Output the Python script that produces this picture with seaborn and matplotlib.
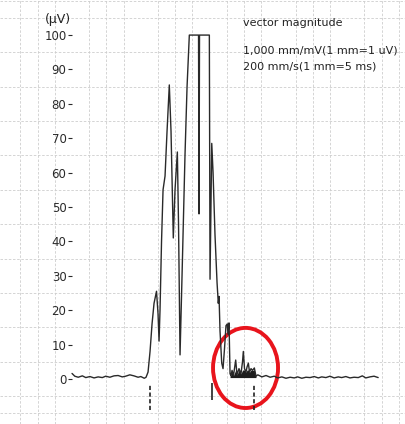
import numpy as np
import pandas as pd
import matplotlib
matplotlib.use("Agg")
import matplotlib.pyplot as plt
from matplotlib.patches import Ellipse
import seaborn as sns

# ---- data (time in ms, amplitude in µV) ----
pre_t = [0, 4, 9, 15, 20, 26, 32, 38, 44, 49, 55, 61, 67, 73, 78, 84, 90, 96, 100, 105]
pre_v = [1.6, 0.8, 0.5, 0.9, 0.4, 0.7, 0.3, 0.6, 0.4, 0.8, 0.5, 0.9, 1.0, 0.6, 0.8, 1.2, 0.9, 0.5, 0.7, 0.2]

qrs_t = [107.6, 110.5, 113.4, 116.3, 119.2, 122.8, 125.0, 126.5, 127.9, 130.1, 132.3, 135.2,
         138.1, 141.4, 143.9, 147.2, 149.7, 153.1, 154.8, 157.0, 159.9, 164.2, 167.2, 170.5,
         183.9, 184.6, 185.3, 199.6, 200.6, 203.1, 205.0, 207.8, 210.8, 212.6, 213.7, 215.1,
         217.6, 219.5, 221.7, 223.8, 225.7, 226.7, 228.2]
qrs_v = [0.5, 2, 8, 16, 22, 25.5, 19, 11, 20, 40, 55, 59,
         72, 85.5, 72, 41, 55, 66, 45, 7, 30, 65, 85, 100,
         100, 48, 100, 100, 29, 68.5, 60, 42, 28, 22, 24, 14,
         4.6, 3, 9, 15.5, 16, 13, 16.3]

late_t = [229.7, 231.1, 232.6, 234.7, 237.9, 239.8, 242.7, 245.6, 247.8, 249.0, 250.7,
          252.9, 254.4, 256.3, 258.0, 260.2, 262.4, 265.0, 267.4]
late_v = [1.5, 1.0, 2.5, 1.0, 5.5, 1.2, 3.0, 1.5, 5.0, 8.0, 3.0,
          2.0, 3.5, 4.6, 2.0, 3.0, 2.5, 3.2, 0.8]

post_t = [270, 276, 282, 288, 294, 299, 305, 311, 317, 323, 328, 334, 340, 346, 352, 358,
          363, 369, 375, 381, 387, 392, 398, 404, 410, 416, 422, 427, 433, 439, 445]
post_v = [1.2, 0.6, 1.0, 0.5, 0.8, 0.3, 0.6, 0.2, 0.5, 0.3, 0.6, 0.2, 0.5, 0.4, 0.7, 0.3,
          0.6, 0.4, 0.8, 0.3, 0.6, 0.4, 0.7, 0.3, 0.5, 0.4, 0.9, 0.3, 0.6, 0.8, 0.4]

marker_dashed_t = [113.4, 264.5]
marker_solid_t = [203.5]
y_ticks = [0, 10, 20, 30, 40, 50, 60, 70, 80, 90, 100]

header = "vector magnitude"
gain_lines = ["1,000 mm/mV(1 mm=1 uV)", "200 mm/s(1 mm=5 ms)"]
unit_label = "(µV)"

# ---- build table ----
t_all = pre_t + qrs_t + late_t + post_t
v_all = pre_v + qrs_v + late_v + post_v
df = pd.DataFrame({"t": t_all, "v": v_all})

sns.set_theme(style="white")
plt.rcParams["font.family"] = ["DejaVu Sans"]

fig = plt.figure(figsize=(4.05, 4.24), dpi=100)
ax = fig.add_axes([0, 0, 1, 1])

# limits chosen so that the 1 mm grid matches (0.688 px/ms, 3.44 px/µV)
ax.set_xlim(-104.7, 484.0)
ax.set_ylim(-13.1, 110.2)

# grid every 5 mm
ax.set_xticks(np.arange(-100, 485, 25), minor=True)
ax.set_yticks(np.arange(-10, 111, 5), minor=True)
ax.grid(which="minor", color="#cdcdcd", linestyle=(0, (3, 2)), linewidth=0.6)
ax.grid(which="major", visible=False)
ax.set_axisbelow(True)

sns.lineplot(data=df, x="t", y="v", sort=False, estimator=None, color="#2a2a2a",
             linewidth=1.0, ax=ax)

lt = np.array(late_t)
lv = np.array(late_v)
ax.fill_between(lt, 0.4, np.minimum(lv, 2.6), color="#1e1e1e", linewidth=0)

# markers below baseline
ax.vlines(marker_dashed_t, -9.0, -1.7, colors="#222222", linestyles=(0, (2.5, 1.5)), linewidth=1.2)
ax.vlines(marker_solid_t, -6.1, -1.2, colors="#222222", linewidth=1.2)

# red ellipse highlighting late potentials
ax.add_patch(Ellipse((252.2, 3.2), 94.5, 23.3, fill=False, edgecolor="#e8141c", linewidth=2.8))

# axis: ticks at x = 0
for s in ["top", "right", "bottom"]:
    ax.spines[s].set_visible(False)
ax.spines["left"].set_position(("data", 0))
ax.spines["left"].set_visible(False)
ax.set_yticks(y_ticks)
ax.set_yticklabels([str(v) for v in y_ticks])
ax.tick_params(axis="y", which="major", direction="out", length=3, width=0.8, pad=1,
               labelsize=8.5, colors="#2a2a2a", left=True)
ax.tick_params(axis="y", which="minor", length=0)
ax.tick_params(axis="x", which="both", length=0, labelbottom=False)
ax.set_xlabel("")
ax.set_ylabel("")

ax.text(-20, 104.6, unit_label, fontsize=9, ha="center", va="center", color="#222222")
ax.text(248, 103.5, header, fontsize=8, ha="left", va="center", color="#222222")
ax.text(248, 95.6, gain_lines[0], fontsize=8, ha="left", va="center", color="#222222")
ax.text(248, 90.8, gain_lines[1], fontsize=8, ha="left", va="center", color="#222222")

fig.savefig("out.png", dpi=100)
